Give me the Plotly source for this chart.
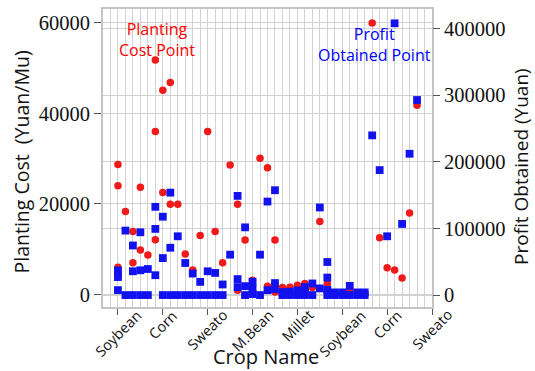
import plotly.graph_objects as go

# Crop group labels placed every six sample positions along the x axis
crop_labels = ["Soybean", "Corn", "Sweato", "M.Bean", "Millet", "Soybean", "Corn", "Sweato"]
crop_ticks = [0, 6, 12, 18, 24, 30, 36, 42]

# Planting cost (Yuan/Mu): sample position and value
cost_pos = [0, 0, 0, 1, 2, 2, 3, 3, 4, 5, 5, 5, 6, 6, 7, 7, 8, 9, 10, 11, 12, 13, 14,
            15, 16, 16, 17, 18, 19, 20, 20, 21, 21, 22, 23, 24, 25, 26, 27, 28, 28,
            31, 34, 35, 36, 37, 38, 39, 40]
cost_vals = [28700, 24000, 6000, 18300, 13900, 7000, 23700, 9800, 8700, 51800, 36000,
             12100, 45100, 22500, 46800, 19900, 19900, 8900, 5400, 13000, 36000, 13900,
             7000, 28600, 19900, 900, 12000, 3100, 30100, 28000, 1800, 12000, 500, 1500,
             1600, 2000, 2400, 1500, 16100, 2400, 900, 900, 60000, 12500, 5900, 5400,
             3600, 18000, 41800]

# Profit obtained (Yuan): sample position and value
profit_pos = [0, 0, 0, 0, 1, 1, 2, 2, 2, 3, 3, 3, 4, 4, 5, 5, 5, 6, 6, 6, 7, 7, 7,
              8, 8, 9, 9, 10, 10, 11, 11, 12, 12, 13, 13, 14, 14, 15, 16, 16, 16,
              17, 17, 17, 18, 18, 18, 19, 19, 20, 20, 21, 21, 21, 22, 22, 23, 23,
              24, 24, 25, 25, 25, 26, 26, 27, 27, 28, 28, 28, 28, 29, 29, 30, 30,
              31, 31, 32, 32, 33, 33, 34, 35, 36, 37, 38, 39, 40]
profit_vals = [37000, 32000, 27000, 7400, 96700, 0, 74400, 35700, 0, 94200, 37200, 0,
               39100, 0, 132400, 99300, 29800, 117600, 55500, 0, 153700, 71000, 0,
               88200, 0, 48100, 0, 32300, 0, 19800, 0, 35700, 0, 33200, 0, 15900, 0,
               60600, 148800, 24000, 12000, 101600, 13400, 0, 20000, 10000, 1500,
               60600, 0, 140300, 7400, 157300, 18000, 9000, 4500, 0, 5000, 0, 7000, 0,
               12000, 5000, 0, 17400, 0, 131400, 10000, 49600, 26300, 8000, 0, 4000, 0,
               4000, 0, 13800, 0, 4000, 0, 4000, 0, 239600, 187500, 88200, 407700,
               106700, 212000, 292700]

cost_ticks = [0, 20000, 40000, 60000]
cost_tick_text = ["0", "20000", "40000", "60000"]
profit_ticks = [0, 100000, 200000, 300000, 400000]
profit_tick_text = ["0", "100000", "200000", "300000", "400000"]

RED = "#f01a1a"
BLUE = "#1212ee"
GRID = "#d2d2d2"
FRAME = "#c4c4c4"
SANS = "Open Sans"
SERIF = "Liberation Serif"

W, H = 535, 371
ML, MR, MT, MB = 103, 103, 7, 64
PW, PH = W - ML - MR, H - MT - MB


def px(x):
    return (x - ML) / PW


def py(y):
    return (H - MB - y) / PH


fig = go.Figure()
fig.add_trace(go.Scatter(
    x=cost_pos, y=cost_vals, mode="markers", name="Planting Cost",
    marker=dict(symbol="circle", size=7.5, color=RED, line=dict(width=0)),
    yaxis="y",
))
fig.add_trace(go.Scatter(
    x=profit_pos, y=profit_vals, mode="markers", name="Profit Obtained",
    marker=dict(symbol="square", size=7.8, color=BLUE, line=dict(width=0)),
    yaxis="y2",
))

fig.update_layout(
    width=W, height=H,
    margin=dict(l=ML, r=MR, t=MT, b=MB, pad=0),
    paper_bgcolor="white", plot_bgcolor="white",
    showlegend=False,
    xaxis=dict(
        range=[-2, 42], tickmode="array", tickvals=crop_ticks,
        ticktext=[""] * len(crop_ticks),
        ticks="outside", ticklen=6, tickcolor="#555", tickwidth=1.3,
        showgrid=True, gridcolor=GRID, gridwidth=1.2,
        minor=dict(tickmode="linear", tick0=0, dtick=1, showgrid=True,
                   gridcolor=GRID, gridwidth=1.2, ticks=""),
        showline=True, mirror=True, linecolor=FRAME, linewidth=2,
        zeroline=False,
    ),
    yaxis=dict(
        range=[-2790, 63070], tickmode="array", tickvals=cost_ticks,
        ticktext=cost_tick_text,
        tickfont=dict(family=SERIF, size=20.5, color="#111"),
        ticks="outside", ticklen=7, tickcolor="#555", tickwidth=1.3,
        showgrid=True, gridcolor=GRID, gridwidth=1.2,
        showline=True, mirror=True, linecolor=FRAME, linewidth=2,
        zeroline=False,
    ),
    yaxis2=dict(
        range=[-17900, 429200], tickmode="array", tickvals=profit_ticks,
        ticktext=profit_tick_text,
        overlaying="y", side="right",
        tickfont=dict(family=SERIF, size=20.5, color="#111"),
        ticks="outside", ticklen=7, tickcolor="#555", tickwidth=1.3,
        showgrid=True, gridcolor=GRID, gridwidth=1.2,
        zeroline=False,
    ),
)

annotations = [
    dict(text="Planting Cost  (Yuan/Mu)", x=px(21), y=py(161.5), textangle=-90,
         font=dict(family=SANS, size=19.5, color="#111")),
    dict(text="Profit Obtained (Yuan)", x=px(521), y=py(166), textangle=-90,
         font=dict(family=SANS, size=19, color="#111")),
    dict(text="Crop Name", x=px(266), y=py(357),
         font=dict(family=SANS, size=20, color="#111")),
    dict(text="Planting<br>Cost Point", x=px(156.5), y=py(38),
         font=dict(family=SANS, size=16, color="#ff0000")),
    dict(text="Profit<br>Obtained Point", x=px(374.5), y=py(43),
         font=dict(family=SANS, size=16, color="#0000ff")),
]
for a in annotations:
    a.update(xanchor="center", yanchor="middle")

# Category labels, centred beneath each tick and tilted 45 degrees
for pos, label in zip(crop_ticks, crop_labels):
    annotations.append(dict(
        text=label, x=pos, xref="x", y=py(303), yref="paper",
        xanchor="center", yanchor="top", textangle=-45,
        font=dict(family=SANS, size=14.5, color="#111"),
    ))

for a in annotations:
    a.setdefault("xref", "paper")
    a.setdefault("yref", "paper")
    a.update(showarrow=False)
fig.update_layout(annotations=annotations)

fig.write_html("out.html")
